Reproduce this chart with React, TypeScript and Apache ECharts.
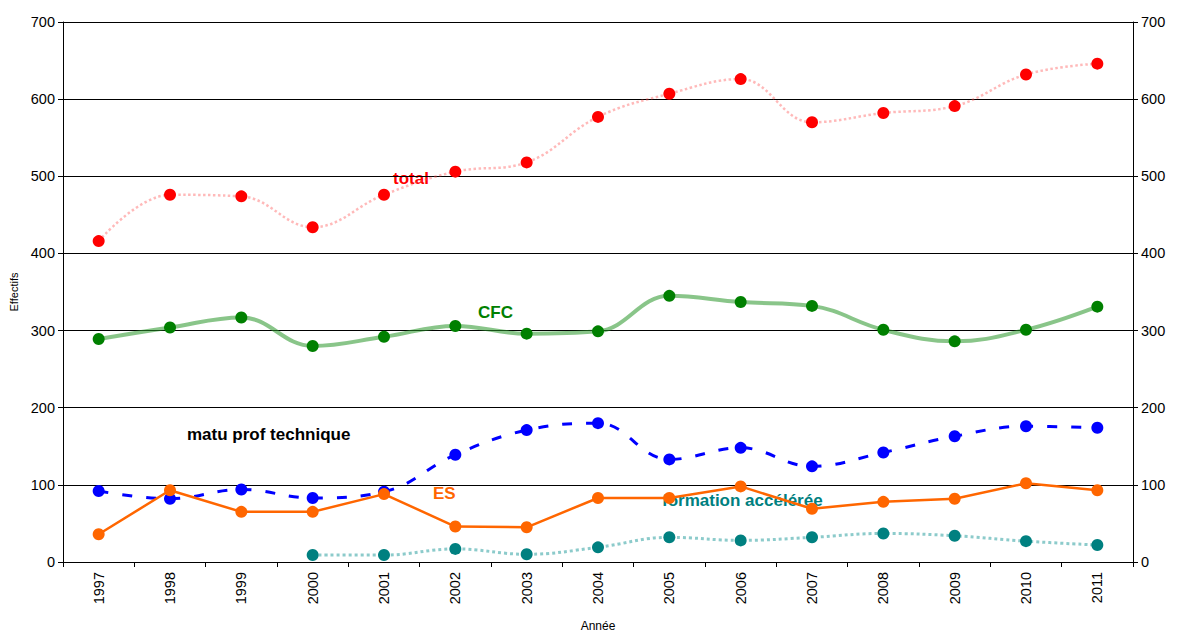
import React, { useEffect, useRef } from "react";
import * as echarts from "echarts";

const years = ["1997","1998","1999","2000","2001","2002","2003","2004","2005","2006","2007","2008","2009","2010","2011"];
const total = [416, 476, 474, 434, 476, 506, 518, 577, 607, 626, 570, 582, 591, 632, 646];
const cfc = [289, 304, 317, 280, 292, 306, 296, 299, 345, 337, 332, 301, 286, 301, 331];
const matu = [92, 82, 94, 83, 91, 139, 171, 180, 133, 148, 124, 142, 163, 176, 174];
const es = [36, 93, 65, 65, 88, 46, 45, 83, 83, 98, 69, 78, 82, 102, 93];
const formation = [null, null, null, 9, 9, 17, 10, 19, 32, 28, 32, 37, 34, 27, 22];

const FONT = "'Liberation Sans', Arial, sans-serif";

export default function App() {
  const ref = useRef<HTMLDivElement>(null);
  useEffect(() => {
    const chart = echarts.init(ref.current!, null, { renderer: "svg", width: 1179, height: 637 });
    const yAxisBase = {
      type: "value",
      min: 0,
      max: 700,
      interval: 100,
      axisLine: { show: true, lineStyle: { color: "#000", width: 1 } },
      axisTick: { show: true, length: 5, lineStyle: { color: "#000" } },
      axisLabel: { color: "#000", fontSize: 14.5, fontFamily: FONT, margin: 8 },
    };
    const sym = { symbol: "circle", symbolSize: 12 };
    chart.setOption({
      animation: false,
      backgroundColor: "#fff",
      grid: { left: 61, width: 1072, top: 22, height: 548, containLabel: false },
      xAxis: {
        type: "category",
        data: years,
        boundaryGap: true,
        name: "Année",
        nameLocation: "middle",
        nameGap: 58,
        nameTextStyle: { color: "#000", fontSize: 12, fontFamily: FONT },
        axisLine: { show: true, onZero: false, lineStyle: { color: "#000" } },
        axisTick: { show: true, length: 5, alignWithLabel: false, lineStyle: { color: "#000" } },
        axisLabel: { color: "#000", fontSize: 14.5, fontFamily: FONT, rotate: 90, margin: 10, interval: 0 },
        splitLine: { show: false },
      },
      yAxis: [
        {
          ...yAxisBase,
          position: "left",
          name: "Effectifs",
          nameLocation: "middle",
          nameGap: 44,
          nameTextStyle: { color: "#000", fontSize: 11, fontFamily: FONT },
          splitLine: { show: true, lineStyle: { color: "#000", width: 1 } },
        },
        {
          ...yAxisBase,
          position: "right",
          splitLine: { show: false },
        },
      ],
      series: [
        {
          name: "total",
          type: "line",
          data: total,
          smooth: 0.4,
          ...sym,
          itemStyle: { color: "#ff0000" },
          lineStyle: { color: "rgba(255,80,80,0.4)", width: 2.5, type: "dotted" },
          z: 3,
        },
        {
          name: "CFC",
          type: "line",
          data: cfc,
          smooth: 0.4,
          ...sym,
          itemStyle: { color: "#008000" },
          lineStyle: { color: "rgba(40,150,40,0.55)", width: 4 },
          z: 3,
        },
        {
          name: "matu prof technique",
          type: "line",
          data: matu,
          smooth: 0.4,
          ...sym,
          itemStyle: { color: "#0000ff" },
          lineStyle: { color: "#0000ff", width: 3, type: [10, 14] },
          z: 3,
        },
        {
          name: "ES",
          type: "line",
          data: es,
          smooth: false,
          ...sym,
          itemStyle: { color: "#ff6600" },
          lineStyle: { color: "#ff6600", width: 2.5 },
          z: 4,
        },
        {
          name: "formation accélérée",
          type: "line",
          data: formation,
          smooth: 0.4,
          connectNulls: false,
          ...sym,
          itemStyle: { color: "#008080" },
          lineStyle: { color: "rgba(0,140,140,0.45)", width: 3, type: "dotted" },
          z: 3,
        },
      ],
      graphic: [
        { type: "text", left: 393, top: 170, style: { text: "total", fill: "#ff0000", font: `bold 17px ${FONT}` } },
        { type: "text", left: 478, top: 304, style: { text: "CFC", fill: "#008000", font: `bold 17px ${FONT}` } },
        { type: "text", left: 187, top: 426, style: { text: "matu prof technique", fill: "#000", font: `bold 17px ${FONT}` } },
        { type: "text", left: 433, top: 485, style: { text: "ES", fill: "#ff6600", font: `bold 17px ${FONT}` } },
        { type: "text", left: 662, top: 492, style: { text: "formation accélérée", fill: "#008080", font: `bold 17px ${FONT}` } },
      ],
    });
    return () => chart.dispose();
  }, []);
  return (
    <div
      ref={ref}
      style={{ position: "fixed", left: 0, top: 0, width: 1179, height: 637, background: "#fff" }}
    />
  );
}
